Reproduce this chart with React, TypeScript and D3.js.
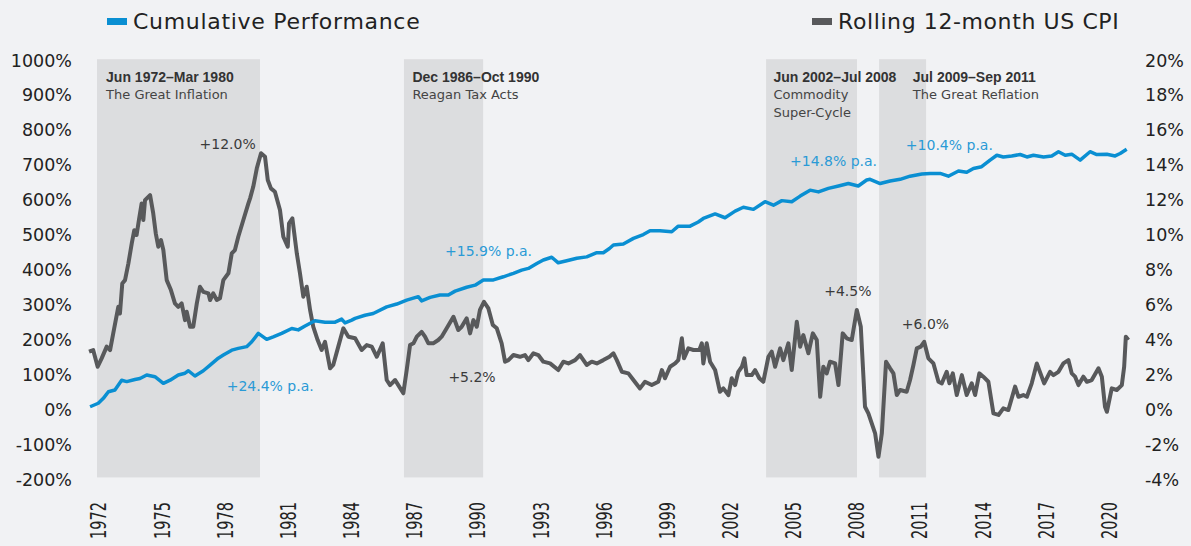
import React from 'react';
import * as d3 from 'd3';

// Rolling 12-month US CPI (right axis, %)
const cpiDates = [
  1971.55, 1971.75, 1971.96, 1972.15, 1972.39, 1972.55, 1972.70, 1972.94, 1973.02, 1973.13,
  1973.26, 1973.42, 1973.58, 1973.70, 1973.81, 1973.92, 1974.05, 1974.13, 1974.21, 1974.45,
  1974.60, 1974.72, 1974.84, 1974.97, 1975.08, 1975.24, 1975.44, 1975.63, 1975.79, 1975.95,
  1976.11, 1976.19, 1976.35, 1976.50, 1976.67, 1976.82, 1976.98, 1977.22, 1977.30, 1977.45,
  1977.62, 1977.77, 1977.93, 1978.17, 1978.33, 1978.48, 1978.64, 1978.88, 1979.12, 1979.20,
  1979.35, 1979.52, 1979.72, 1979.91, 1980.04, 1980.19, 1980.38, 1980.62, 1980.78, 1980.99,
  1981.05, 1981.21, 1981.42, 1981.57, 1981.73, 1981.89, 1982.05, 1982.20, 1982.41, 1982.60,
  1982.76, 1983.00, 1983.15, 1983.39, 1983.63, 1983.87, 1984.19, 1984.50, 1984.74, 1984.98,
  1985.22, 1985.50, 1985.69, 1985.85, 1986.09, 1986.24, 1986.48, 1986.64, 1986.80, 1986.96,
  1987.12, 1987.35, 1987.51, 1987.67, 1987.90, 1988.14, 1988.30, 1988.54, 1988.86, 1989.09,
  1989.25, 1989.49, 1989.65, 1989.81, 1989.97, 1990.12, 1990.31, 1990.52, 1990.73, 1990.92,
  1991.15, 1991.31, 1991.47, 1991.71, 1992.02, 1992.26, 1992.42, 1992.66, 1992.89, 1993.13,
  1993.45, 1993.84, 1994.08, 1994.32, 1994.64, 1994.87, 1995.19, 1995.43, 1995.67, 1995.98,
  1996.27, 1996.46, 1996.62, 1996.86, 1997.17, 1997.41, 1997.72, 1997.96, 1998.28, 1998.59,
  1998.76, 1998.91, 1999.15, 1999.39, 1999.54, 1999.71, 1999.81, 2000.02, 2000.26, 2000.54,
  2000.66, 2000.73, 2000.89, 2001.05, 2001.29, 2001.52, 2001.68, 2001.92, 2002.08, 2002.24,
  2002.39, 2002.56, 2002.68, 2002.79, 2003.03, 2003.19, 2003.39, 2003.58, 2003.82, 2003.98,
  2004.14, 2004.38, 2004.53, 2004.77, 2004.93, 2005.17, 2005.33, 2005.48, 2005.72, 2005.93,
  2006.12, 2006.28, 2006.43, 2006.59, 2006.75, 2006.99, 2007.15, 2007.35, 2007.54, 2007.78,
  2008.02, 2008.21, 2008.41, 2008.57, 2008.89, 2009.05, 2009.21, 2009.41, 2009.60, 2009.76,
  2009.92, 2010.08, 2010.39, 2010.55, 2010.71, 2010.87, 2011.06, 2011.22, 2011.42, 2011.66,
  2011.90, 2012.06, 2012.29, 2012.42, 2012.58, 2012.77, 2013.01, 2013.24, 2013.48, 2013.64,
  2013.84, 2014.03, 2014.27, 2014.51, 2014.75, 2014.98, 2015.22, 2015.54, 2015.70, 2015.93,
  2016.10, 2016.33, 2016.57, 2016.92, 2017.20, 2017.36, 2017.60, 2017.83, 2018.07, 2018.23,
  2018.39, 2018.55, 2018.78, 2018.95, 2019.18, 2019.50, 2019.66, 2019.81, 2019.90, 2020.13,
  2020.37, 2020.61, 2020.72, 2020.80, 2020.92,
];
const cpiValues = [
  3.31, 3.40, 2.45, 2.93, 3.60, 3.40, 4.36, 5.88, 5.50, 7.22,
  7.41, 8.37, 9.51, 10.27, 9.99, 10.85, 11.80, 10.85, 11.99, 12.28,
  11.23, 10.09, 9.32, 9.70, 9.13, 7.41, 6.84, 6.08, 5.88, 6.08,
  5.12, 5.60, 4.74, 4.74, 6.08, 7.03, 6.74, 6.65, 6.27, 6.65,
  6.27, 6.37, 7.41, 7.80, 8.94, 9.13, 9.89, 10.85, 11.80, 12.09,
  12.75, 13.81, 14.67, 14.47, 13.14, 12.66, 12.47, 11.42, 9.89, 9.32,
  10.66, 10.94, 8.94, 7.80, 6.46, 7.03, 5.70, 4.74, 3.98, 3.41,
  3.88, 2.36, 2.55, 3.60, 4.65, 4.17, 4.08, 3.41, 3.69, 3.60,
  3.02, 3.79, 1.69, 1.40, 1.69, 1.40, 0.93, 2.26, 3.69, 3.79,
  4.17, 4.45, 4.17, 3.79, 3.79, 3.98, 4.17, 4.65, 5.31, 4.55,
  4.74, 5.22, 4.36, 5.12, 4.74, 5.70, 6.17, 5.79, 4.84, 4.65,
  3.79, 2.74, 2.83, 3.12, 3.02, 3.12, 2.83, 3.22, 3.12, 2.74,
  2.64, 2.26, 2.74, 2.64, 2.83, 3.12, 2.55, 2.74, 2.64, 2.83,
  3.02, 3.22, 2.83, 2.16, 2.07, 1.69, 1.21, 1.59, 1.40, 1.59,
  2.26, 1.79, 2.45, 2.64, 2.83, 4.08, 2.93, 3.50, 3.41, 3.41,
  3.79, 2.64, 3.79, 2.74, 2.26, 1.02, 1.21, 0.83, 1.79, 1.40,
  2.16, 2.45, 2.93, 1.97, 1.97, 2.26, 1.79, 1.59, 3.02, 3.31,
  2.45, 3.50, 2.83, 3.79, 2.26, 5.03, 3.60, 4.26, 3.22, 4.36,
  3.98, 0.73, 2.45, 2.07, 2.74, 2.64, 1.40, 4.36, 4.08, 3.98,
  5.70, 4.74, 0.16, -0.22, -1.36, -2.70, -1.36, 2.74, 2.36, 2.07,
  0.83, 1.12, 1.02, 1.69, 2.55, 3.50, 3.60, 3.88, 2.93, 2.64,
  1.59, 1.50, 2.16, 1.50, 2.07, 0.83, 1.97, 0.83, 1.50, 0.83,
  2.07, 1.88, 1.59, -0.22, -0.31, 0.07, -0.03, 1.31, 0.73, 0.83,
  0.73, 1.50, 2.64, 1.50, 2.16, 1.97, 2.16, 2.64, 2.83, 2.07,
  1.88, 1.40, 1.88, 1.59, 1.69, 2.36, 1.88, 0.16, -0.13, 1.21,
  1.12, 1.40, 2.45, 4.17, 3.98,
];

// Cumulative performance (left axis, %)
const perfDates = [
  1971.60, 1971.99, 1972.23, 1972.47, 1972.78, 1973.10, 1973.34, 1973.73, 1973.97, 1974.29,
  1974.68, 1975.08, 1975.40, 1975.79, 1976.11, 1976.27, 1976.58, 1976.98, 1977.30, 1977.69,
  1977.93, 1978.33, 1978.64, 1979.04, 1979.28, 1979.59, 1979.99, 1980.30, 1980.70, 1981.18,
  1981.49, 1981.81, 1982.28, 1982.76, 1983.24, 1983.55, 1983.71, 1984.03, 1984.19, 1984.66,
  1985.05, 1985.69, 1986.17, 1986.64, 1987.19, 1987.35, 1987.75, 1988.22, 1988.62, 1988.94,
  1989.49, 1989.89, 1990.28, 1990.76, 1991.23, 1991.71, 1992.10, 1992.42, 1992.82, 1993.13,
  1993.53, 1993.84, 1994.24, 1994.72, 1995.19, 1995.67, 1995.98, 1996.27, 1996.46, 1996.93,
  1997.41, 1997.88, 1998.20, 1998.67, 1999.23, 1999.54, 2000.10, 2000.49, 2000.73, 2001.29,
  2001.76, 2002.24, 2002.63, 2003.11, 2003.66, 2004.06, 2004.46, 2004.93, 2005.33, 2005.80,
  2006.20, 2006.67, 2007.15, 2007.62, 2008.09, 2008.49, 2008.65, 2009.13, 2009.60, 2010.08,
  2010.55, 2011.11, 2011.50, 2011.98, 2012.37, 2012.85, 2013.24, 2013.56, 2013.95, 2014.35,
  2014.67, 2014.98, 2015.38, 2015.78, 2016.10, 2016.41, 2016.89, 2017.28, 2017.60, 2017.92,
  2018.23, 2018.63, 2019.10, 2019.42, 2019.90, 2020.29, 2020.53, 2020.84,
];
const perfValues = [
  8, 18, 32, 51, 56, 84, 80, 86, 89, 99,
  94, 75, 84, 99, 104, 111, 96, 111, 127, 147,
  156, 170, 175, 180, 194, 218, 201, 208, 218, 232,
  228, 239, 254, 250, 250, 259, 248, 256, 261, 270,
  275, 294, 302, 313, 323, 311, 321, 328, 328, 339,
  350, 356, 371, 371, 380, 390, 399, 404, 418, 428,
  436, 420, 426, 433, 437, 449, 449, 461, 471, 474,
  490, 501, 512, 512, 509, 525, 525, 537, 547, 560,
  549, 568, 579, 573, 595, 585, 598, 595, 611, 628,
  623, 633, 640, 647, 640, 657, 659, 647, 654, 659,
  668, 674, 676, 676, 668, 683, 679, 690, 695, 714,
  728, 723, 726, 730, 723, 728, 723, 726, 738, 728,
  731, 714, 738, 730, 731, 726, 733, 745,
];

// Shaded regimes
const bandStart = [1971.93, 1986.51, 2003.71, 2009.08];
const bandEnd = [1979.67, 1990.27, 2008.03, 2011.31];
const periodTitles = ['Jun 1972\u2013Mar 1980', 'Dec 1986\u2013Oct 1990', 'Jun 2002\u2013Jul 2008', 'Jul 2009\u2013Sep 2011'];
const periodSubtitles = [['The Great Inflation'], ['Reagan Tax Acts'], ['Commodity', 'Super-Cycle'], ['The Great Reflation']];
const periodLabelYear = [1972.36, 1986.91, 2004.06, 2010.68];

// Call-outs: text, year, left-axis value, colour
const noteTexts = ['+12.0%', '+24.4% p.a.', '+15.9% p.a.', '+5.2%', '+14.8% p.a.', '+4.5%', '+10.4% p.a.', '+6.0%'];
const noteYears = [1979.47, 1978.09, 1988.46, 1988.62, 2004.85, 2006.47, 2010.35, 2010.16];
const noteValues = [760, 67, 454, 94, 712, 340, 757, 245];
const noteIsPerf = [false, true, true, false, true, false, true, false];
const noteAnchorEnd = [true, false, false, false, false, false, false, false];

const yearTicks = d3.range(1972, 2021, 3);
const leftTicks = d3.range(-200, 1001, 100);
const rightTicks = d3.range(-4, 21, 2);

const W = 1191;
const H = 546;
const BLUE = '#0a8fd2';
const BLUE_TEXT = '#2a9ad6';
const GREY = '#58595b';
const FONT = '"DejaVu Sans", sans-serif';

export default function App() {
  const x = d3.scaleLinear().domain([1972, 2020]).range([98.5, 1109]);
  const yL = d3.scaleLinear().domain([-200, 1000]).range([479.4, 60.2]);
  const yR = d3.scaleLinear().domain([-4, 20]).range([479.4, 60.2]);

  const perfLine = d3.line<number>()
    .x((d, i) => x(perfDates[i]))
    .y(d => yL(d));
  const cpiLine = d3.line<number>()
    .x((d, i) => x(cpiDates[i]))
    .y(d => yR(d));

  const top = yL(1000);

  return (
    <svg width={W} height={H} style={{ position: 'absolute', left: 0, top: 0, display: 'block' }} fontFamily={FONT}>
      <rect width={W} height={H} fill="#f1f2f4" />

      {/* shaded regimes */}
      {bandStart.map((s, i) => (
        <rect key={'b' + i} x={x(s)} y={top - 1} width={x(bandEnd[i]) - x(s)} height={yL(-200) - top - 1} fill="#dcdddf" />
      ))}

      {/* period labels */}
      {periodTitles.map((t, i) => (
        <g key={'p' + i}>
          <text x={x(periodLabelYear[i])} y={top + 22} fontFamily='"Liberation Sans", Arial, sans-serif' fontWeight="bold" fontSize={14} fill="#333">{t}</text>
          {periodSubtitles[i].map((s, j) => (
            <text key={j} x={x(periodLabelYear[i])} y={top + 39 + j * 18} fontSize={13} fill="#444">{s}</text>
          ))}
        </g>
      ))}

      {/* lines */}
      <path d={cpiLine(cpiValues) || ''} fill="none" stroke={GREY} strokeWidth={4} strokeLinejoin="round" />
      <path d={perfLine(perfValues) || ''} fill="none" stroke={BLUE} strokeWidth={3.5} strokeLinejoin="round" />

      {/* call-outs */}
      {noteTexts.map((t, i) => (
        <text key={'n' + i} x={x(noteYears[i])} y={yL(noteValues[i])} dy="0.35em" fontSize={14}
          textAnchor={noteAnchorEnd[i] ? 'end' : 'start'} fill={noteIsPerf[i] ? BLUE_TEXT : '#3a3a3a'}>{t}</text>
      ))}

      {/* left axis */}
      {leftTicks.map(v => (
        <text key={'l' + v} x={72} y={yL(v)} dy="0.36em" textAnchor="end" fontSize={17.5} fill="#222">{v}%</text>
      ))}
      {/* right axis */}
      {rightTicks.map(v => (
        <text key={'r' + v} x={1145} y={yR(v)} dy="0.36em" textAnchor="start" fontSize={17.5} fill="#222">{v}%</text>
      ))}
      {/* x axis */}
      {yearTicks.map(yr => (
        <text key={'x' + yr} transform={`translate(${x(yr)},502) rotate(-90)`} dy="0.36em" textAnchor="end"
          fontSize={22} textLength={37} lengthAdjust="spacingAndGlyphs" fill="#222">{yr}</text>
      ))}

      {/* legend */}
      <rect x={107} y={18} width={20} height={7} fill={BLUE} />
      <text x={133} y={21.5} dy="0.36em" fontSize={22} letterSpacing={0.7} fill="#222">Cumulative Performance</text>
      <rect x={812} y={18} width={20} height={7} fill={GREY} />
      <text x={838} y={21.5} dy="0.36em" fontSize={22} letterSpacing={0.6} fill="#222">Rolling 12-month US CPI</text>
    </svg>
  );
}
